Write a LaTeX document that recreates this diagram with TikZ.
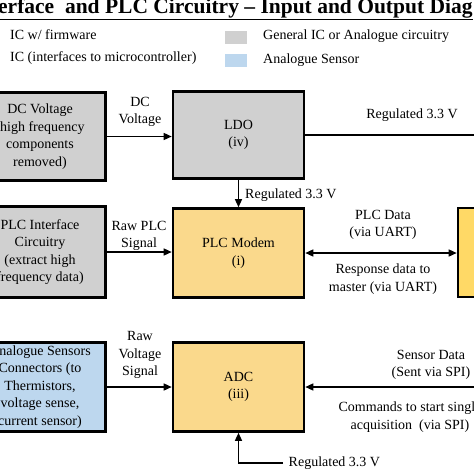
\documentclass[tikz,border=0pt]{standalone}
\usepackage{fontspec}
\setmainfont{Liberation Serif}
\usetikzlibrary{arrows.meta}
\definecolor{icgray}{HTML}{D0D0D0}
\definecolor{icblue}{HTML}{BDD7EE}
\definecolor{icyellow}{HTML}{FAD98C}
\definecolor{mcuyellow}{HTML}{FFD966}

\begin{document}
\begin{tikzpicture}[x=1pt,y=-1pt,
  font=\fontsize{14}{17.5}\selectfont,
  blk/.style={draw=black, line width=2.6pt, minimum width=131pt, minimum height=89pt, align=center, inner sep=2pt},
  grayblk/.style={blk, fill=icgray},
  yellowblk/.style={blk, fill=icyellow},
  blueblk/.style={blk, fill=icblue},
  keybox/.style={minimum width=22pt, minimum height=13pt, inner sep=0pt},
  lbl/.style={align=center, inner sep=2pt},
  wire/.style={line width=1.4pt},
  arr/.style={wire, -{Triangle[length=8pt,width=7pt]}},
  dblarr/.style={wire, {Triangle[length=8pt,width=7pt]}-{Triangle[length=8pt,width=7pt]}}]
\useasboundingbox (0,0) rectangle (474,474);
\clip (0,0) rectangle (474,474);

% title and key
\node[anchor=base west, inner sep=0pt, font=\bfseries\fontsize{21.5}{24}\selectfont] (title) at (-2,13)
  {\underline{erface\ \ and PLC Circuitry – Input and Output Diag}};
\node[anchor=west, inner sep=0pt] (fwtxt) at (10,35) {IC w/ firmware};
\node[anchor=west, inner sep=0pt] (iftxt) at (10,58) {IC (interfaces to microcontroller)};
\node[keybox, fill=icgray] (graykey) at (236,37) {};
\node[keybox, fill=icblue] (bluekey) at (236,60.5) {};
\node[anchor=west, inner sep=0pt] (graytxt) at (263,36) {General IC or Analogue circuitry};
\node[anchor=west, inner sep=0pt] (bluetxt) at (263,60) {Analogue Sensor};

% blocks
\node[grayblk, minimum height=88pt] (dcin) at (40,136.5) {DC Voltage\\(high frequency\\components\\removed)};
\node[grayblk, minimum height=87pt] (ldo) at (238.5,135) {LDO\\(iv)};
\node[grayblk, minimum height=91pt] (plcif) at (40,252) {PLC Interface\\Circuitry\\(extract high\\frequency data)};
\node[yellowblk] (modem) at (238.5,253) {PLC Modem\\(i)};
\node[blk, fill=mcuyellow] (mcu) at (523.5,252.5) {};
\node[blueblk] (sensors) at (40,387) {Analogue Sensors\\Connectors (to\\Thermistors,\\voltage sense,\\current sensor)};
\node[yellowblk] (adc) at (238.5,387) {ADC\\(iii)};

% free ends
\coordinate (railend) at (480,135);
\coordinate (spiend) at (480,387);
\coordinate (vinend) at (283,463);

% connectors
\draw[arr] (dcin.east) -- (dcin.east -| ldo.west);
\draw[wire] (ldo.east) -- (railend);
\draw[arr] (ldo.south) -- (modem.north);
\draw[arr] (plcif.east) -- (plcif.east -| modem.west);
\draw[dblarr] (modem.east) -- (modem.east -| mcu.west);
\draw[arr] (sensors.east) -- (adc.west);
\draw[arr] (spiend) -- (adc.east);
\draw[arr] (vinend) -| (adc.south);

% labels
\node[lbl] (dclbl) at (140,112) {DC\\Voltage};
\node[lbl] (raillbl) at (412,115) {Regulated 3.3 V};
\node[lbl, anchor=west] (modemvlbl) at (243,195) {Regulated 3.3 V};
\node[lbl] (plclbl) at (139,236) {Raw PLC\\Signal};
\node[lbl] (txlbl) at (383,225) {PLC Data\\(via UART)};
\node[lbl] (rxlbl) at (383,279) {Response data to\\master (via UART)};
\node[lbl] (rawvlbl) at (140,355) {Raw\\Voltage\\Signal};
\node[lbl] (spilbl) at (431,365) {Sensor Data\\(Sent via SPI)};
\node[lbl] (cmdlbl) at (410,417) {Commands to start single\\acquisition\ \ (via SPI)};
\node[lbl, anchor=west] (adcvlbl) at (vinend) {\ Regulated 3.3 V};
\end{tikzpicture}
\end{document}
